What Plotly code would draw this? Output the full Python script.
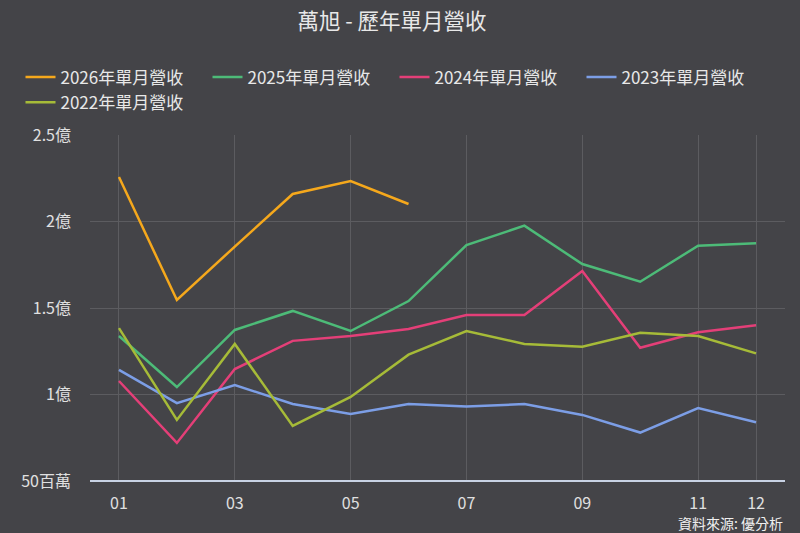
import plotly.graph_objects as go

months = [1, 2, 3, 4, 5, 6, 7, 8, 9, 10, 11, 12]
tick_vals_x = [1, 3, 5, 7, 9, 11, 12]
tick_text_x = ["01", "03", "05", "07", "09", "11", "12"]

y_tick_vals = [50, 100, 150, 200, 250]
y_tick_text = ["50百萬", "1億", "1.5億", "2億", "2.5億"]

# monthly revenue, in millions (百萬)
rev_2026 = [225.7, 154.6, 185.5, 215.9, 223.4, 210.1]
rev_2025 = [133.8, 104.3, 137.3, 148.3, 136.7, 154.0, 186.4, 197.6, 175.4, 165.2, 186.0, 187.4]
rev_2024 = [107.8, 72.0, 114.7, 131.0, 133.8, 137.9, 146.0, 146.0, 171.4, 127.0, 136.0, 140.0]
rev_2023 = [114.2, 95.0, 105.5, 94.5, 88.7, 94.5, 93.0, 94.5, 88.2, 78.0, 92.2, 84.0]
rev_2022 = [138.4, 85.3, 129.2, 81.8, 98.6, 123.0, 136.7, 129.2, 127.6, 135.7, 133.8, 123.8]

series = [
    ("2026年單月營收", rev_2026, "#f5a81c"),
    ("2025年單月營收", rev_2025, "#4dbb78"),
    ("2024年單月營收", rev_2024, "#e43f78"),
    ("2023年單月營收", rev_2023, "#7c9ee6"),
    ("2022年單月營收", rev_2022, "#a6bb38"),
]

FONT = "Noto Sans CJK TC, Noto Sans, sans-serif"

fig = go.Figure()
for name, vals, color in series:
    fig.add_trace(go.Scatter(
        x=months[:len(vals)], y=vals, name=name, mode="lines",
        line=dict(color=color, width=2.5),
    ))

fig.update_layout(
    width=800, height=533,
    paper_bgcolor="#444448", plot_bgcolor="#444448",
    font=dict(family=FONT, color="#e0e0e0", size=14),
    title=dict(text="萬旭 - 歷年單月營收", x=0.49, xanchor="center", y=0.96, yanchor="middle",
               font=dict(size=21.5, color="#e8e8e8", family=FONT)),
    margin=dict(l=90, r=15, t=135, b=52),
    showlegend=True,
    legend=dict(orientation="h", x=-0.1, xanchor="left", y=1.13, yanchor="middle",
                font=dict(size=17, color="#e8e8e8", family=FONT),
                entrywidth=142, entrywidthmode="pixels", tracegroupgap=0,
                bgcolor="rgba(0,0,0,0)"),
    xaxis=dict(range=[0.5, 12.5], tickmode="array", tickvals=tick_vals_x, ticktext=tick_text_x,
               showgrid=True, gridcolor="#5c5c60", gridwidth=1, zeroline=False,
               showline=False, ticks="", tickfont=dict(size=16, color="#e0e0e0"), ticklabelstandoff=11),
    yaxis=dict(range=[50, 250], tickmode="array", tickvals=y_tick_vals, ticktext=y_tick_text,
               showgrid=True, gridcolor="#5c5c60", gridwidth=1, zeroline=False,
               showline=False, ticks="", tickfont=dict(size=16, color="#e0e0e0"), ticklabelstandoff=18),
    shapes=[dict(type="line", xref="paper", yref="paper", x0=0, x1=1, y0=0, y1=0,
                 line=dict(color="#c8d2e4", width=2))],
    annotations=[dict(text="資料來源: 優分析", xref="paper", yref="paper", x=1.0, y=-0.12,
                      xanchor="right", yanchor="middle", showarrow=False,
                      font=dict(size=14, color="#f0f0f0", family=FONT))],
)

fig.write_html("out.html")
